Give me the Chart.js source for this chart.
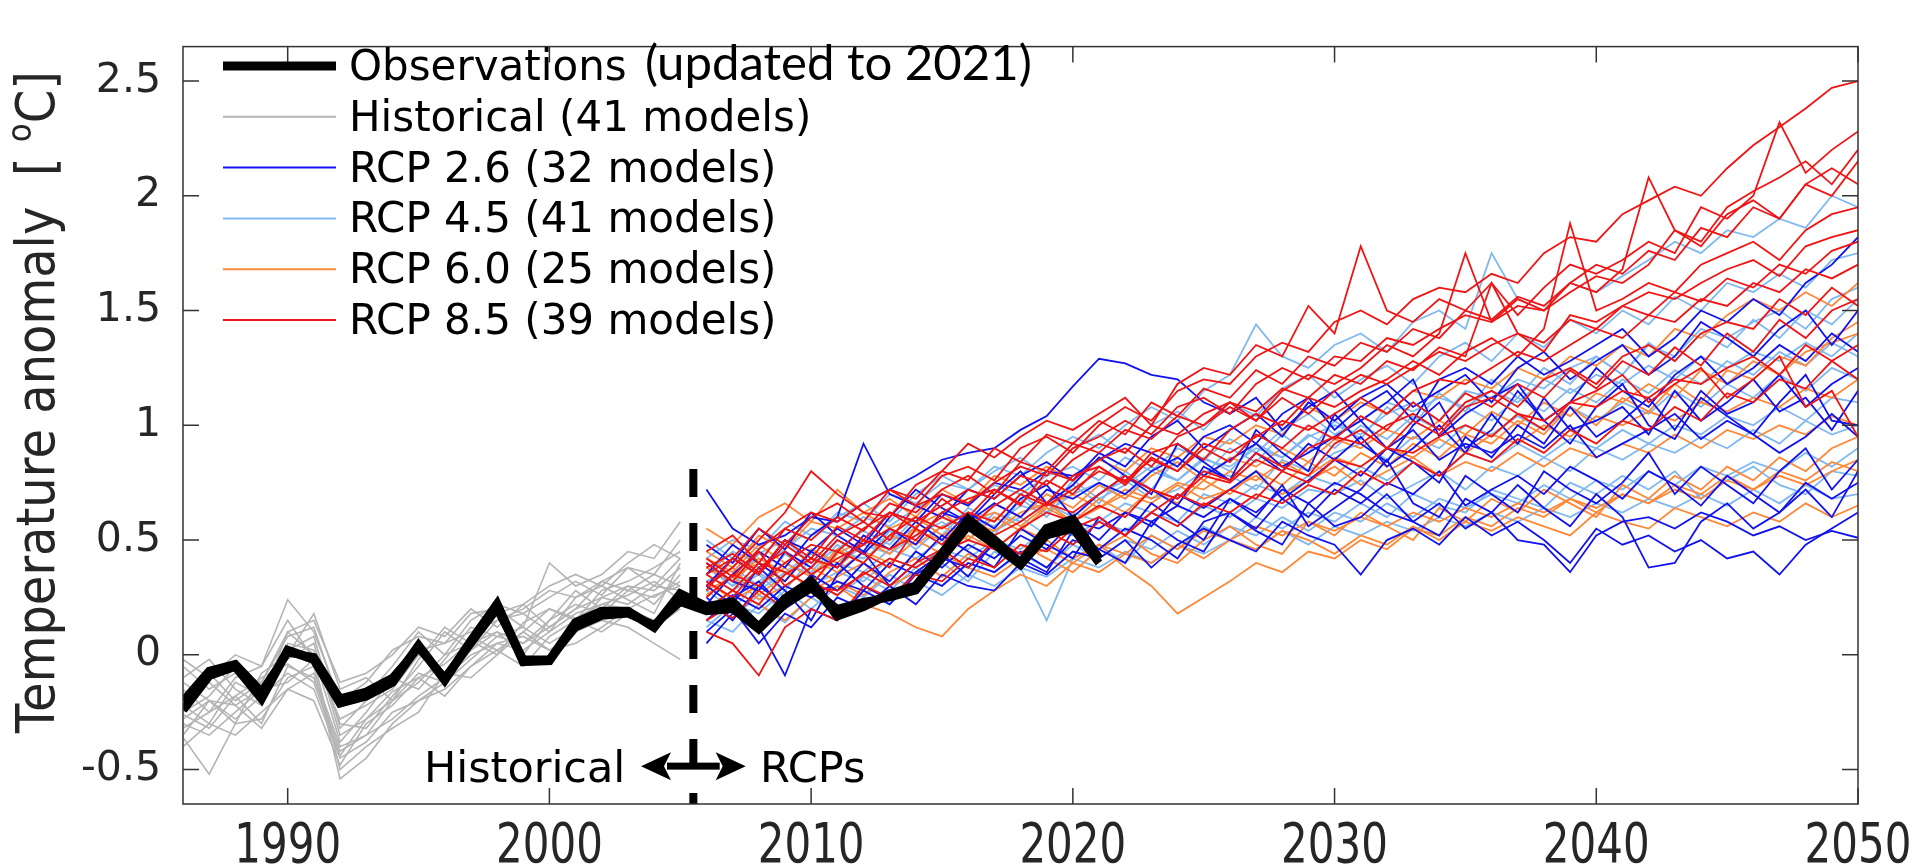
<html>
<head>
<meta charset="utf-8">
<title>Temperature anomaly</title>
<script src="https://cdn.jsdelivr.net/npm/chart.js@4.4.1/dist/chart.umd.min.js"></script>
<style>
  body { margin: 0; background: #fff; }
  #wrap { width: 1917px; height: 865px; }
</style>
</head>
<body>
<div id="wrap"><canvas id="myChart"></canvas></div>
<script>
// ---- data ----
const histYears = [1986,1987,1988,1989,1990,1991,1992,1993,1994,1995,1996,1997,1998,1999,2000,2001,2002,2003,2004,2005]
const rcpYears = [2006,2007,2008,2009,2010,2011,2012,2013,2014,2015,2016,2017,2018,2019,2020,2021,2022,2023,2024,2025,
  2026,2027,2028,2029,2030,2031,2032,2033,2034,2035,2036,2037,2038,2039,2040,2041,2042,2043,2044,2045,2046,2047,2048,2049,2050]
const obsYears = [1986,1987,1988,1989,1990,1991,1992,1993,1994,1995,1996,1997,1998,1999,2000,2001,2002,2003,2004,2005,
  2006,2007,2008,2009,2010,2011,2012,2013,2014,2015,2016,2017,2018,2019,2020,2021]

const observations = [-0.24,-0.09,-0.05,-0.19,0.02,-0.02,-0.21,-0.18,-0.12,0.04,-0.11,0.06,0.22,-0.03,-0.025,0.14,0.19,0.19,0.12,0.265,
  0.21,0.23,0.12,0.245,0.32,0.17,0.21,0.265,0.30,0.44,0.59,0.50,0.40,0.55,0.59,0.42]
const observations2 = [-0.20,-0.07,-0.04,-0.16,0.01,-0.01,-0.19,-0.16,-0.10,0.03,-0.10,0.05,0.20,-0.02,-0.02,0.12,0.17,0.18,0.13,0.23,
  0.19,0.20,0.11,0.22,0.29,0.20,0.23,0.25,0.28,0.42,0.56,0.48,0.39,0.52,0.55,0.40]

const historical = [
  [-0.02,-0.10,0.00,-0.05,0.24, 0.10,-0.20,-0.12,0.02,0.08, 0.05,0.18,0.20,0.12,0.40, 0.30,0.35,0.45,0.42,0.58],
  [-0.36,-0.52,-0.30,-0.28,-0.10, -0.05,-0.54,-0.45,-0.30,-0.20, -0.15,-0.05,0.05,0.02,0.10, 0.18,0.22,0.20,0.26,0.30],
  [-0.20,-0.12,-0.22,-0.15,-0.02, 0.05,-0.35,-0.28,-0.20,-0.12, 0.00,0.05,0.10,0.00,0.15, 0.22,0.18,0.28,0.25,0.32],
  [-0.28,-0.20,-0.28,-0.18,-0.08, -0.15,-0.45,-0.38,-0.25,-0.20, -0.12,-0.02,0.08,0.12,0.05, 0.12,0.25,0.22,0.30,0.28],
  [-0.10,-0.02,-0.15,-0.22,0.05, 0.02,-0.30,-0.32,-0.18,-0.05, 0.10,0.02,0.15,0.18,0.10, 0.25,0.30,0.24,0.18,0.40],
  [-0.40,-0.30,-0.35,-0.25,-0.15, -0.20,-0.48,-0.30,-0.22,-0.10, -0.18,-0.05,0.02,-0.05,0.08, 0.15,0.10,0.18,0.12,0.20],
  [-0.15,-0.25,-0.10,-0.05,0.15, -0.02,-0.28,-0.22,-0.15,0.00, -0.08,0.08,0.02,0.10,0.20, 0.15,0.28,0.32,0.38,0.45],
  [-0.25,-0.18,-0.05,-0.20,0.10, 0.00,-0.38,-0.25,-0.10,-0.15, -0.02,0.12,0.08,0.05,0.15, 0.28,0.20,0.30,0.22,0.35],
  [-0.32,-0.25,-0.18,-0.30,-0.05, -0.10,-0.42,-0.35,-0.28,-0.18, -0.10,0.00,0.05,0.08,0.02, 0.10,0.15,0.12,0.05,-0.02],
  [-0.18,-0.08,-0.20,-0.12,0.08, 0.12,-0.22,-0.18,-0.05,0.10, 0.00,0.15,0.22,0.18,0.25, 0.32,0.26,0.38,0.30,0.42],
  [-0.30,-0.35,-0.25,-0.15,-0.12, -0.02,-0.50,-0.40,-0.32,-0.25, -0.08,-0.10,0.00,0.10,0.02, 0.05,0.12,0.20,0.15,0.25],
  [-0.12,-0.20,-0.30,-0.08,0.00, 0.18,-0.15,-0.10,-0.20,-0.02, 0.12,0.05,0.18,0.22,0.12, 0.20,0.32,0.28,0.35,0.30],
  [-0.22,-0.30,-0.12,-0.18,0.02, 0.08,-0.32,-0.20,-0.12,0.02, 0.05,0.10,0.15,0.20,0.28, 0.25,0.32,0.38,0.35,0.50],
  [-0.35,-0.20,-0.22,-0.32,-0.15, -0.08,-0.40,-0.35,-0.20,-0.08, -0.12,0.02,0.10,0.05,0.12, 0.20,0.25,0.30,0.28,0.38],
  [-0.05,-0.15,-0.08,-0.12,0.10, 0.15,-0.12,-0.08,0.00,0.12, 0.08,0.20,0.12,0.22,0.30, 0.35,0.30,0.40,0.48,0.42],
  [-0.26,-0.32,-0.18,-0.10,-0.04, -0.12,-0.44,-0.28,-0.16,-0.10, -0.04,0.06,0.00,0.14,0.20, 0.16,0.22,0.26,0.32,0.24]
]

const rcp26 = [
  [0.72,0.55,0.48,0.52,0.60, 0.58,0.66,0.72,0.78,0.85, 0.88,0.90,0.98,1.04,1.17, 1.29,1.27,1.22,1.20,1.10, 1.05,1.12,0.98,1.08,1.15, 1.02,1.10,1.20,0.95,1.05, 1.12,1.18,1.02,1.10,1.25, 1.15,1.08,1.22,1.30,1.18, 1.25,1.35,1.28,1.40,1.32],
  [0.30,0.42,0.35,0.50,0.45, 0.55,0.48,0.62,0.58,0.70, 0.65,0.75,0.72,0.80,0.78, 0.85,0.92,0.88,0.82,0.95, 1.00,0.92,1.05,1.12,0.98, 1.08,1.15,1.02,1.20,1.25, 1.18,1.30,1.22,1.28,1.35, 1.42,1.30,1.38,1.50,1.45, 1.55,1.48,1.62,1.70,1.82],
  [0.10,0.20,0.05,0.18,0.12, 0.25,0.20,0.30,0.22,0.35, 0.30,0.28,0.40,0.35,0.45, 0.42,0.50,0.38,0.48,0.55, 0.50,0.45,0.58,0.52,0.48, 0.35,0.50,0.55,0.48,0.60, 0.52,0.58,0.50,0.40,0.55, 0.48,0.52,0.45,0.50,0.42, 0.45,0.35,0.48,0.55,0.62],
  [0.25,0.15,0.30,0.22,0.35, 0.28,0.40,0.32,0.45,0.38, 0.48,0.42,0.52,0.46,0.58, 0.55,0.62,0.58,0.65,0.60, 0.68,0.62,0.72,0.66,0.75, 0.70,0.62,0.58,0.66,0.55, 0.62,0.50,0.48,0.36,0.52, 0.58,0.60,0.55,0.62,0.58, 0.52,0.56,0.50,0.54,0.51],
  [0.40,0.32,0.28,0.45,0.38, 0.50,0.44,0.55,0.48,0.62, 0.58,0.66,0.60,0.72,0.68, 0.75,0.70,0.80,0.86,0.78, 0.85,0.92,0.82,0.88,0.95, 1.02,0.90,0.98,0.85,0.92, 0.88,0.96,0.90,1.00,0.86, 0.92,0.98,1.05,0.94,1.02, 0.96,0.88,0.95,1.05,0.95],
  [0.22,0.35,0.45,0.38,0.52, 0.60,0.92,0.70,0.65,0.60, 0.72,0.68,0.78,0.84,0.76, 0.88,0.82,0.95,1.02,0.90, 0.98,1.05,0.95,1.10,1.02, 1.12,1.18,1.08,1.15,1.22, 1.10,1.25,1.32,1.20,1.28, 1.35,1.22,1.30,1.45,1.38, 1.30,1.42,1.50,1.35,1.50],
  [0.05,0.18,0.12,-0.09,0.20, 0.15,0.28,0.22,0.35,0.30, 0.40,0.36,0.45,0.38,0.50, 0.46,0.55,0.50,0.42,0.58, 0.62,0.55,0.68,0.60,0.72, 0.66,0.75,0.70,0.80,0.65, 0.72,0.78,0.70,0.82,0.76, 0.68,0.80,0.74,0.65,0.78, 0.70,0.62,0.75,0.68,0.75],
  [0.35,0.48,0.40,0.32,0.45, 0.38,0.52,0.46,0.58,0.50, 0.62,0.55,0.68,0.74,0.60, 0.70,0.78,0.72,0.65,0.82, 0.76,0.88,0.80,0.92,0.85, 0.95,0.82,0.90,1.00,0.88, 1.05,0.92,1.12,0.98,1.02, 1.08,0.96,1.15,1.02,1.10, 1.20,1.06,1.12,0.98,1.15],
  [0.18,0.26,0.20,0.30,0.25, 0.32,0.28,0.40,0.35,0.42, 0.38,0.48,0.44,0.52,0.58, 0.50,0.62,0.56,0.70,0.64, 0.72,0.80,0.68,0.76,0.85, 0.78,0.90,0.84,0.75,0.95, 0.86,1.00,0.92,1.08,0.95, 1.02,1.12,0.98,1.15,1.05, 1.10,1.22,1.08,1.18,1.25],
  [0.30,0.22,0.38,0.28,0.15, 0.35,0.45,0.30,0.40,0.52, 0.45,0.38,0.55,0.48,0.42, 0.60,0.52,0.66,0.58,0.50, 0.68,0.60,0.74,0.56,0.64, 0.72,0.85,0.66,0.60,0.78, 0.70,0.62,0.80,0.72,0.66, 0.75,0.88,0.70,0.82,0.74, 0.66,0.80,0.90,0.72,0.85],
  [0.48,0.40,0.55,0.46,0.62, 0.52,0.45,0.60,0.72,0.64, 0.58,0.70,0.80,0.66,0.74, 0.86,0.78,0.70,0.92,0.84, 0.76,0.98,0.88,0.80,1.05, 0.92,0.84,1.00,1.10,0.90, 0.98,1.15,1.02,0.92,1.08, 1.18,1.00,0.94,1.12,1.04, 0.96,1.10,1.22,1.02,1.00],
  [0.15,0.25,0.32,0.20,0.28, 0.40,0.30,0.24,0.36,0.44, 0.34,0.50,0.42,0.36,0.54, 0.46,0.40,0.58,0.50,0.45, 0.62,0.54,0.48,0.66,0.56, 0.60,0.70,0.58,0.52,0.68, 0.62,0.74,0.64,0.56,0.70, 0.60,0.38,0.40,0.58,0.66, 0.55,0.62,0.72,0.60,0.80]
]

const rcp45 = [
  [0.35,0.45,0.40,0.55,0.50, 0.62,0.58,0.70,0.66,0.75, 0.72,0.82,0.78,0.88,0.95, 0.90,1.00,1.08,1.02,1.15, 1.22,1.44,1.30,1.25,1.35, 1.40,1.32,1.45,1.50,1.42, 1.75,1.55,1.50,1.62,1.58, 1.65,1.72,1.80,1.75,1.85, 1.82,1.90,1.86,2.00,1.95],
  [0.28,0.20,0.32,0.40,0.35, 0.45,0.42,0.50,0.55,0.48, 0.60,0.56,0.65,0.62,0.70, 0.75,0.68,0.80,0.76,0.85, 0.82,0.90,0.86,0.95,1.00, 0.96,1.05,1.10,1.02,1.15, 1.12,1.20,1.16,1.25,1.30, 1.22,1.35,1.30,1.42,1.38, 1.45,1.50,1.42,1.55,1.60],
  [0.12,0.22,0.18,0.28,0.20, 0.30,0.25,0.35,0.28,0.40, 0.32,0.45,0.38,0.15,0.42, 0.48,0.40,0.52,0.46,0.56, 0.50,0.60,0.55,0.62,0.58, 0.66,0.60,0.70,0.65,0.62, 0.72,0.68,0.64,0.75,0.70, 0.78,0.72,0.80,0.68,0.76, 0.82,0.74,0.70,0.80,0.78],
  [0.40,0.30,0.36,0.28,0.42, 0.38,0.48,0.44,0.52,0.58, 0.50,0.62,0.58,0.66,0.60, 0.70,0.76,0.68,0.72,0.80, 0.78,0.72,0.85,0.80,0.88, 0.92,0.85,0.95,0.90,1.00, 0.96,1.04,0.98,1.08,1.02, 1.10,1.05,1.15,1.08,1.18, 1.12,1.22,1.15,1.25,1.20],
  [0.20,0.28,0.35,0.25,0.30, 0.36,0.32,0.42,0.38,0.46, 0.42,0.50,0.46,0.55,0.52, 0.58,0.54,0.62,0.56,0.65, 0.60,0.68,0.64,0.72,0.70, 0.76,0.68,0.74,0.80,0.72, 0.82,0.78,0.86,0.80,0.90, 0.85,0.92,0.88,0.95,0.90, 0.98,0.92,1.02,0.96,1.00],
  [0.50,0.42,0.38,0.46,0.55, 0.52,0.60,0.56,0.64,0.70, 0.66,0.74,0.70,0.78,0.82, 0.76,0.86,0.80,0.90,0.85, 0.94,0.88,0.98,1.05,0.96, 1.02,1.10,1.06,1.12,1.08, 1.15,1.10,1.20,1.14,1.22, 1.18,1.26,1.20,1.30,1.25, 1.32,1.28,1.36,1.30,1.40],
  [0.15,0.10,0.22,0.14,0.25, 0.18,0.28,0.22,0.32,0.26, 0.35,0.30,0.38,0.34,0.42, 0.38,0.45,0.40,0.48,0.44, 0.50,0.46,0.54,0.48,0.56, 0.52,0.58,0.54,0.60,0.56, 0.62,0.58,0.64,0.60,0.66, 0.62,0.68,0.64,0.70,0.65, 0.72,0.66,0.74,0.68,0.70],
  [0.32,0.38,0.30,0.44,0.36, 0.48,0.40,0.54,0.46,0.56, 0.62,0.52,0.68,0.60,0.74, 0.66,0.80,0.72,0.86,0.78, 0.90,0.84,0.96,0.88,1.02, 0.94,1.08,1.00,1.14,1.06, 1.20,1.12,1.25,1.18,1.30, 1.22,1.36,1.28,1.40,1.34, 1.46,1.38,1.50,1.44,1.55],
  [0.26,0.34,0.28,0.36,0.44, 0.40,0.36,0.46,0.42,0.50, 0.46,0.54,0.60,0.52,0.62, 0.58,0.66,0.62,0.58,0.70, 0.66,0.74,0.70,0.78,0.74, 0.82,0.76,0.84,0.78,0.88, 0.84,0.92,0.86,0.94,0.90, 0.98,0.92,1.00,0.96,1.04, 1.00,1.08,1.02,1.12,1.10],
  [0.38,0.30,0.44,0.50,0.40, 0.46,0.54,0.48,0.60,0.52, 0.64,0.58,0.70,0.62,0.76, 0.68,0.74,0.82,0.76,0.86, 0.80,0.92,0.86,0.96,0.90, 1.00,0.94,1.04,0.98,1.08, 1.02,1.12,1.06,1.16,1.10, 1.20,1.14,1.24,1.18,1.28, 1.22,1.32,1.26,1.36,1.30],
  [0.22,0.16,0.26,0.20,0.32, 0.26,0.34,0.28,0.38,0.30, 0.40,0.36,0.44,0.38,0.48, 0.42,0.50,0.46,0.54,0.48, 0.56,0.52,0.60,0.54,0.62, 0.58,0.66,0.60,0.68,0.64, 0.70,0.66,0.74,0.68,0.76, 0.72,0.80,0.74,0.82,0.78, 0.84,0.80,0.88,0.82,0.90],
  [0.42,0.50,0.46,0.58,0.52, 0.60,0.66,0.58,0.70,0.78, 0.72,0.80,0.86,0.78,0.90, 0.96,0.88,1.00,1.06,0.98, 1.10,1.04,1.16,1.22,1.12, 1.20,1.26,1.18,1.30,1.36, 1.28,1.40,1.34,1.46,1.40, 1.50,1.44,1.56,1.50,1.62, 1.58,1.66,1.60,1.72,1.75]
]

const rcp60 = [
  [0.45,0.38,0.52,0.46,0.58, 0.55,0.62,0.68,0.60,0.72, 0.66,0.78,0.74,0.82,0.76, 0.85,0.80,0.90,0.86,0.95, 0.92,1.00,0.96,1.08,1.02, 1.10,1.05,1.15,1.12,1.20, 1.16,1.25,1.20,1.30,1.26, 1.35,1.30,1.42,1.38,1.48, 1.55,1.50,1.58,1.52,1.62],
  [0.30,0.38,0.26,0.35,0.42, 0.36,0.45,0.40,0.50,0.44, 0.52,0.46,0.55,0.50,0.42, 0.48,0.38,0.30,0.18,0.25, 0.32,0.40,0.36,0.45,0.42, 0.50,0.46,0.55,0.52,0.60, 0.56,0.64,0.60,0.68,0.62, 0.70,0.66,0.74,0.70,0.78, 0.72,0.80,0.76,0.84,0.80],
  [0.20,0.28,0.22,0.15,0.25, 0.30,0.22,0.18,0.12,0.08, 0.20,0.28,0.35,0.30,0.40, 0.36,0.44,0.40,0.48,0.42, 0.50,0.46,0.54,0.50,0.44, 0.52,0.48,0.56,0.50,0.58, 0.54,0.60,0.56,0.52,0.62, 0.58,0.55,0.64,0.60,0.56, 0.62,0.58,0.66,0.60,0.65],
  [0.38,0.32,0.42,0.36,0.30, 0.44,0.50,0.46,0.54,0.50, 0.58,0.62,0.56,0.65,0.70, 0.64,0.72,0.68,0.75,0.72, 0.80,0.76,0.84,0.78,0.86, 0.82,0.90,0.86,0.94,0.88, 0.96,0.92,1.00,0.95,1.04, 1.00,1.06,1.02,1.10,1.06, 1.12,1.08,1.16,1.12,1.20],
  [0.55,0.48,0.60,0.66,0.58, 0.72,0.62,0.55,0.60,0.52, 0.58,0.54,0.62,0.66,0.58, 0.64,0.70,0.66,0.74,0.68, 0.72,0.78,0.70,0.76,0.82, 0.74,0.80,0.86,0.78,0.84, 0.80,0.88,0.82,0.90,0.86, 0.92,0.88,0.96,0.90,0.98, 0.94,1.00,0.96,1.04,1.00],
  [0.26,0.34,0.40,0.32,0.46, 0.40,0.50,0.44,0.56,0.62, 0.54,0.66,0.60,0.70,0.64, 0.74,0.68,0.78,0.84,0.76, 0.86,0.82,0.90,0.84,0.94, 0.90,0.98,0.94,1.02,0.96, 1.06,1.00,1.10,1.04,1.14, 1.10,1.18,1.12,1.24,1.18, 1.28,1.22,1.32,1.36,1.40],
  [0.32,0.24,0.30,0.38,0.28, 0.34,0.40,0.30,0.36,0.44, 0.38,0.34,0.42,0.46,0.40, 0.48,0.44,0.52,0.46,0.54, 0.50,0.56,0.52,0.58,0.54, 0.60,0.56,0.62,0.58,0.64, 0.60,0.66,0.62,0.68,0.64, 0.70,0.66,0.72,0.68,0.76, 0.72,0.78,0.74,0.80,0.85],
  [0.42,0.36,0.48,0.40,0.34, 0.46,0.40,0.52,0.48,0.56, 0.50,0.60,0.54,0.64,0.58, 0.68,0.62,0.72,0.66,0.76, 0.70,0.80,0.74,0.84,0.78, 0.88,0.82,0.92,0.86,0.96, 0.92,1.02,0.96,1.08,1.00, 1.12,1.06,1.18,1.10,1.24, 1.20,1.30,1.26,1.38,1.45],
  [0.28,0.34,0.24,0.30,0.38, 0.32,0.26,0.36,0.42,0.34, 0.44,0.38,0.48,0.42,0.36, 0.46,0.52,0.44,0.40,0.50, 0.56,0.48,0.44,0.58,0.52, 0.62,0.56,0.50,0.64,0.58, 0.68,0.62,0.72,0.66,0.60, 0.74,0.68,0.78,0.72,0.82, 0.76,0.86,0.80,0.90,0.95]
]

const rcp85 = [
  [0.45,0.52,0.40,0.55,0.62, 0.58,0.66,0.72,0.65,0.78, 0.82,0.76,0.90,0.95,0.88, 1.00,1.08,1.02,1.15,1.20, 1.18,1.30,1.36,1.32,1.45, 1.50,1.44,1.55,1.60,1.58, 1.66,1.62,1.75,1.82,1.80, 1.92,1.98,2.04,2.00,2.12, 2.22,2.30,2.38,2.47,2.50],
  [0.30,0.38,0.50,0.62,0.80, 0.70,0.62,0.60,0.74,0.80, 0.92,0.86,0.95,1.02,0.98, 1.05,1.12,1.00,1.18,1.25, 1.22,1.35,1.30,1.52,1.40, 1.78,1.50,1.45,1.55,1.50, 1.62,1.48,1.60,1.70,1.66, 1.72,1.80,1.75,1.95,1.90, 2.00,2.32,2.10,2.20,2.28],
  [0.25,0.35,0.30,0.40,0.48, 0.45,0.55,0.62,0.58,0.65, 0.72,0.68,0.78,0.74,0.85, 0.92,0.88,1.00,0.96,1.05, 1.10,1.02,1.15,1.22,1.18, 1.25,1.35,1.30,1.40,1.75, 1.45,1.52,1.50,1.62,1.58, 1.68,2.08,1.85,1.80,1.95, 2.02,2.08,2.15,2.05,2.20],
  [0.20,0.28,0.22,0.35,0.42, 0.38,0.50,0.46,0.52,0.60, 0.55,0.65,0.72,0.66,0.78, 0.82,0.75,0.88,0.92,0.85, 0.98,1.05,1.00,1.12,1.08, 1.15,1.20,1.28,1.22,1.32, 1.38,1.30,1.42,1.88,1.50, 1.55,1.62,1.58,1.70,1.75, 1.80,1.72,1.85,1.92,1.95],
  [0.35,0.28,0.40,0.36,0.30, 0.45,0.40,0.52,0.60,0.55, 0.62,0.58,0.70,0.65,0.72, 0.80,0.76,0.85,0.80,0.92, 0.88,0.95,1.02,0.98,1.05, 1.12,1.05,1.15,1.20,1.18, 1.25,1.32,1.28,1.35,1.42, 1.38,1.48,1.45,1.55,1.52, 1.62,1.58,1.68,1.64,1.70],
  [0.15,0.22,0.10,0.25,0.30, 0.28,0.35,0.42,0.38,0.45, 0.50,0.46,0.55,0.62,0.58, 0.65,0.60,0.72,0.68,0.78, 0.75,0.85,0.80,0.90,0.95, 0.92,1.00,1.05,0.98,1.10, 1.15,1.08,1.20,1.25,1.18, 1.30,1.35,1.28,1.40,1.45, 1.42,1.55,1.48,1.60,1.52],
  [0.10,0.05,-0.09,0.12,0.20, 0.15,0.30,0.25,0.35,0.32, 0.42,0.38,0.48,0.45,0.55, 0.60,0.52,0.62,0.70,0.65, 0.72,0.68,0.80,0.75,0.85, 0.82,0.90,0.88,0.95,1.00, 0.95,1.05,1.02,1.10,1.08, 1.15,1.12,1.20,1.18,1.25, 1.30,1.22,1.35,1.28,1.20],
  [0.40,0.32,0.45,0.30,0.38, 0.50,0.44,0.38,0.55,0.48, 0.60,0.52,0.58,0.66,0.62, 0.70,0.78,0.72,0.68,0.80, 0.76,0.88,0.82,0.78,0.92, 0.98,0.90,1.02,0.96,1.08, 1.12,1.05,0.98,1.10,1.15, 1.22,1.10,1.18,1.25,1.12, 1.20,1.30,1.08,1.15,0.95],
  [0.28,0.42,0.35,0.48,0.40, 0.52,0.58,0.50,0.65,0.70, 0.66,0.75,0.82,0.78,0.90, 0.95,1.02,0.96,1.08,1.12, 1.05,1.18,1.25,1.20,1.30, 1.28,1.38,1.35,1.42,1.48, 1.45,1.55,1.50,1.58,1.65, 1.62,1.70,1.85,1.78,1.92, 1.98,1.90,2.05,2.12,2.05],
  [0.32,0.25,0.38,0.45,0.35, 0.42,0.48,0.55,0.50,0.62, 0.68,0.72,0.65,0.80,0.76, 0.85,0.90,0.82,0.95,1.00, 1.08,1.02,1.12,1.05,1.15, 1.22,1.18,1.25,1.32,1.28, 1.35,1.40,1.32,1.48,1.45, 1.52,1.58,1.55,1.62,1.68, 1.72,1.65,1.78,1.82,1.85],
  [0.38,0.44,0.36,0.50,0.42, 0.56,0.50,0.62,0.55,0.68, 0.60,0.72,0.66,0.76,0.70, 0.82,0.74,0.86,0.80,0.90, 0.84,0.96,0.90,1.00,0.94, 1.04,0.98,1.10,1.02,1.14, 1.08,1.18,1.12,1.24,1.16, 1.28,1.22,1.34,1.26,1.40, 1.32,1.46,1.38,1.50,1.55],
  [0.35,0.42,0.55,0.48,0.60, 0.66,0.58,0.72,0.68,0.80, 0.76,0.90,0.84,0.96,0.92, 1.02,0.96,1.10,1.04,1.16, 1.12,1.24,1.18,1.30,1.26, 1.36,1.32,1.42,1.38,1.50, 1.46,1.56,1.52,1.62,1.70, 1.66,1.76,1.72,1.86,1.82, 1.95,1.90,2.05,2.00,2.15],
  [0.22,0.16,0.28,0.20,0.32, 0.26,0.36,0.30,0.40,0.46, 0.38,0.50,0.44,0.54,0.48, 0.58,0.52,0.62,0.56,0.66, 0.62,0.70,0.66,0.74,0.70, 0.80,0.74,0.84,0.78,0.88, 0.84,0.94,0.88,0.98,0.92, 1.02,0.98,1.08,1.02,1.14, 1.10,1.20,1.16,1.28,1.35],
  [0.42,0.34,0.46,0.55,0.50, 0.60,0.54,0.66,0.62,0.72, 0.78,0.70,0.84,0.80,0.92, 0.88,0.98,0.94,1.04,1.00, 1.10,1.06,1.16,1.12,1.22, 1.18,1.28,1.24,1.34,1.30, 1.62,1.40,1.36,1.46,1.42, 1.52,1.48,1.58,1.54,1.64, 1.60,1.70,1.66,1.76,1.80]
]

const xTicks = [1990, 2000, 2010, 2020, 2030, 2040, 2050]
const yTicks = [-0.5, 0, 0.5, 1, 1.5, 2, 2.5]
const yTickLabels = ['-0.5', '0', '0.5', '1', '1.5', '2', '2.5']

const legendLabels = ['Observations', 'Historical (41 models)', 'RCP 2.6 (32 models)', 'RCP 4.5 (41 models)', 'RCP 6.0 (25 models)', 'RCP 8.5 (39 models)']

// ---- styling ----
const colObs = '#000000'
const colHist = '#b4b4b4'
const col26 = '#1212ee'
const col45 = '#80b8f0'
const col60 = '#ff8838'
const col85 = '#f01414'
const axisCol = '#333333'
const textCol = '#262626'
const legendColors = [colObs, colHist, col26, col45, col60, col85]
const legendWidths = [9, 2, 2, 2, 2, 2]

const toPoints = (years, vals) => years.map((yr, i) => ({ x: yr, y: vals[i] }))
const line = (years, vals, color, width) => ({
    data: toPoints(years, vals),
    borderColor: color,
    borderWidth: width,
    pointRadius: 0,
    fill: false,
    tension: 0
})

// first dataset ends up on top
const datasets = []
datasets.push(line(obsYears, observations, colObs, 9))
datasets.push(line(obsYears, observations2, colObs, 8))
rcp85.forEach(v => datasets.push(line(rcpYears, v, col85, 1.8)))
rcp26.forEach(v => datasets.push(line(rcpYears, v, col26, 1.8)))
rcp60.forEach(v => datasets.push(line(rcpYears, v, col60, 1.8)))
rcp45.forEach(v => datasets.push(line(rcpYears, v, col45, 1.8)))
historical.forEach(v => datasets.push(line(histYears, v, colHist, 1.6)))

const dividerYear = 2005.5
const dividerTop = 0.81

const overlay = {
    id: 'overlay',
    afterDraw(chart) {
        const { ctx, chartArea: a, scales: { x, y } } = chart
        ctx.save()

        // dashed divider between historical and RCP runs
        const dx = x.getPixelForValue(dividerYear)
        ctx.strokeStyle = '#000'
        ctx.lineWidth = 8
        ctx.setLineDash([28, 26])
        ctx.beginPath()
        ctx.moveTo(dx, y.getPixelForValue(dividerTop))
        ctx.lineTo(dx, a.bottom)
        ctx.stroke()
        ctx.setLineDash([])

        // double arrow + labels
        const ay = y.getPixelForValue(-0.485)
        const ax1 = x.getPixelForValue(2003.5), ax2 = x.getPixelForValue(2007.5)
        const head = 30, half = 14
        ctx.fillStyle = '#000'
        ctx.fillRect(ax1 + head - 4, ay - 3.5, ax2 - ax1 - 2 * head + 8, 7)
        ctx.beginPath()
        ctx.moveTo(ax1, ay); ctx.lineTo(ax1 + head, ay - half); ctx.lineTo(ax1 + head - 7, ay); ctx.lineTo(ax1 + head, ay + half); ctx.closePath()
        ctx.fill()
        ctx.beginPath()
        ctx.moveTo(ax2, ay); ctx.lineTo(ax2 - head, ay - half); ctx.lineTo(ax2 - head + 7, ay); ctx.lineTo(ax2 - head, ay + half); ctx.closePath()
        ctx.fill()
        ctx.font = '43px "DejaVu Sans"'
        ctx.textBaseline = 'alphabetic'
        ctx.textAlign = 'right'
        ctx.fillText('Historical', x.getPixelForValue(2002.9), ay + 16)
        ctx.textAlign = 'left'
        ctx.fillText('RCPs', x.getPixelForValue(2008.05), ay + 16)

        // axes box with inward ticks
        ctx.strokeStyle = axisCol
        ctx.lineWidth = 1.5
        ctx.strokeRect(a.left, a.top, a.right - a.left, a.bottom - a.top)
        ctx.beginPath()
        xTicks.forEach(v => {
            const px = x.getPixelForValue(v)
            ctx.moveTo(px, a.bottom); ctx.lineTo(px, a.bottom - 16)
            ctx.moveTo(px, a.top); ctx.lineTo(px, a.top + 16)
        })
        yTicks.forEach(v => {
            const py = y.getPixelForValue(v)
            ctx.moveTo(a.left, py); ctx.lineTo(a.left + 16, py)
            ctx.moveTo(a.right, py); ctx.lineTo(a.right - 16, py)
        })
        ctx.stroke()

        // x tick labels (drawn slightly tall, as in the figure)
        ctx.fillStyle = textCol
        ctx.textAlign = 'center'
        ctx.font = '42px "DejaVu Sans"'
        x.ticks.forEach(t => {
            ctx.save()
            ctx.translate(x.getPixelForValue(t.value), 862)
            ctx.scale(1, 1.3)
            ctx.fillText(String(t.value), 0, 0)
            ctx.restore()
        })

        // y axis title
        ctx.save()
        ctx.translate(54, 402)
        ctx.rotate(-Math.PI / 2)
        ctx.scale(1, 1.1)
        ctx.textAlign = 'left'
        const mainFont = '48px "DejaVu Sans"', supFont = '31px "DejaVu Sans"'
        const t1 = 'Temperature anomaly  [ ', t2 = 'C]'
        ctx.font = mainFont
        const w1 = ctx.measureText(t1).width, w2 = ctx.measureText(t2).width
        ctx.font = supFont
        const wo = ctx.measureText('o').width
        let cx = -(w1 + wo + w2) / 2
        ctx.font = mainFont
        ctx.fillText(t1, cx, 0); cx += w1
        ctx.font = supFont
        ctx.fillText('o', cx, -21); cx += wo
        ctx.font = mainFont
        ctx.fillText(t2, cx, 0)
        ctx.restore()

        // legend
        ctx.fillStyle = '#000'
        ctx.textAlign = 'left'
        ctx.font = '42px "DejaVu Sans"'
        legendLabels.forEach((lab, i) => {
            const base = 80 + 50.8 * i
            const ly = base - 14
            ctx.strokeStyle = legendColors[i]
            ctx.lineWidth = legendWidths[i]
            ctx.beginPath(); ctx.moveTo(223, ly); ctx.lineTo(336, ly); ctx.stroke()
            ctx.fillText(lab, 349, base)
        })
        ctx.font = '42px Lato'
        const upd = '(updated to 2021)'
        const sz = 42 * 387 / ctx.measureText(upd).width
        ctx.font = sz.toFixed(1) + 'px Lato'
        ctx.fillText(upd, 645, 80)

        ctx.restore()
    }
}

const ctx = document.getElementById('myChart').getContext('2d')
const myChart = new Chart(ctx, {
    type: 'line',
    data: { datasets },
    options: {
        animation: false,
        responsive: true,
        maintainAspectRatio: false,
        events: [],
        layout: { padding: { top: 10, right: 59, left: 0, bottom: 0 } },
        plugins: { legend: { display: false }, tooltip: { enabled: false } },
        scales: {
            x: {
                type: 'linear',
                min: 1986,
                max: 2050,
                afterBuildTicks: s => { s.ticks = xTicks.map(v => ({ value: v })) },
                afterFit: s => { s.height = 61 },
                ticks: { display: false },
                grid: { display: false, drawTicks: false },
                border: { display: false }
            },
            y: {
                type: 'linear',
                min: -0.65,
                max: 2.65,
                afterBuildTicks: s => { s.ticks = yTicks.map(v => ({ value: v })) },
                afterFit: s => { s.width = 183 },
                ticks: {
                    padding: 22,
                    color: textCol,
                    font: { family: 'DejaVu Sans', size: 41 },
                    callback: (v) => yTickLabels[yTicks.indexOf(v)]
                },
                grid: { display: false, drawTicks: false },
                border: { display: false }
            }
        }
    },
    plugins: [overlay]
})
</script>
</body>
</html>
